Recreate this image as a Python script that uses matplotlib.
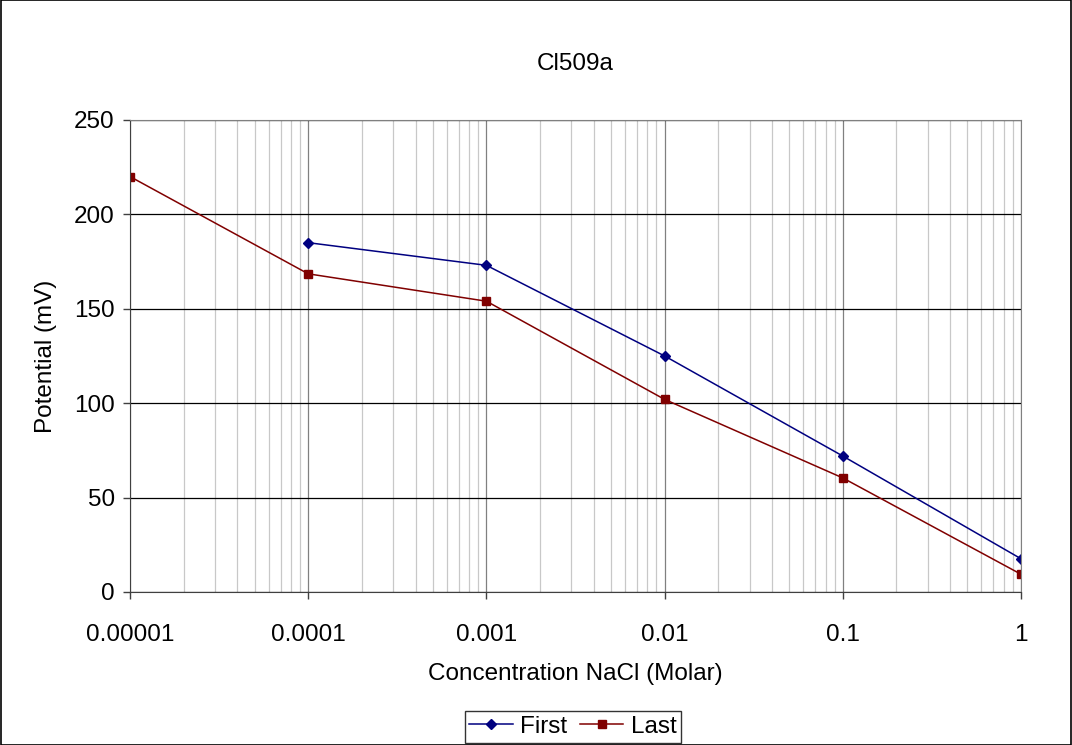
import matplotlib.pyplot as plt
from matplotlib.ticker import FixedLocator, LogLocator, NullFormatter

plt.rcParams['font.family'] = ['Liberation Sans', 'DejaVu Sans']

# ---- data ----
conc_first = [0.0001, 0.001, 0.01, 0.1, 1]
pot_first = [185, 173, 125, 72, 17.6]
conc_last = [0.00001, 0.0001, 0.001, 0.01, 0.1, 1]
pot_last = [220, 168.5, 154, 102, 60.4, 9.4]
xtick_vals = [0.00001, 0.0001, 0.001, 0.01, 0.1, 1]
xtick_labels = ['0.00001', '0.0001', '0.001', '0.01', '0.1', '1']

FS = 17.5

fig = plt.figure(figsize=(10.72, 7.45), dpi=100)
ax = fig.add_axes([0.1213, 0.2054, 0.8311, 0.6336])

ax.set_xscale('log')
ax.set_xlim(1e-5, 1)
ax.set_ylim(0, 250)
ax.set_yticks([0, 50, 100, 150, 200, 250])
ax.xaxis.set_major_locator(FixedLocator(xtick_vals))
ax.set_xticklabels(xtick_labels)
ax.xaxis.set_minor_locator(LogLocator(base=10, subs=range(2, 10)))
ax.xaxis.set_minor_formatter(NullFormatter())

ax.grid(True, which='minor', axis='x', color='#c8c8c8', lw=0.9)
ax.grid(True, which='major', axis='x', color='#808080', lw=0.9)
ax.grid(True, which='major', axis='y', color='black', lw=0.9)
ax.set_axisbelow(True)

ax.plot(conc_first, pot_first, color='#000080', marker='D', ms=5, lw=1.1, label='First')
ax.plot(conc_last, pot_last, color='#800000', marker='s', ms=6, lw=1.1, label='Last')

for s in ['left', 'bottom']:
    ax.spines[s].set_color('#404040')
for s in ['right', 'top']:
    ax.spines[s].set_color('#808080')

ax.tick_params(axis='both', which='major', labelsize=FS, direction='out', length=5, width=1, color='#404040')
ax.tick_params(axis='x', which='minor', length=0)
ax.tick_params(axis='x', pad=18)
ax.tick_params(axis='y', pad=6)

ax.set_xlabel('Concentration NaCl (Molar)', fontsize=FS, labelpad=12)
ax.set_ylabel('Potential (mV)', fontsize=FS, labelpad=12)
fig.text(0.5368, 1 - 64 / 745, 'Cl509a', ha='center', va='center', fontsize=FS)

fig.legend(loc='upper center', bbox_to_anchor=(0.5345, 1 - 711 / 745), ncol=2,
           fontsize=FS, frameon=True, fancybox=False, edgecolor='black',
           handlelength=1.8, handletextpad=0.3, columnspacing=0.5, borderpad=0.2,
           borderaxespad=0)

fig.patches.append(plt.Rectangle((0.0005, 0.0005), 0.999, 0.999, transform=fig.transFigure,
                                 fill=False, edgecolor='black', lw=1.2))

fig.savefig('out.png', dpi=100, facecolor='white')
